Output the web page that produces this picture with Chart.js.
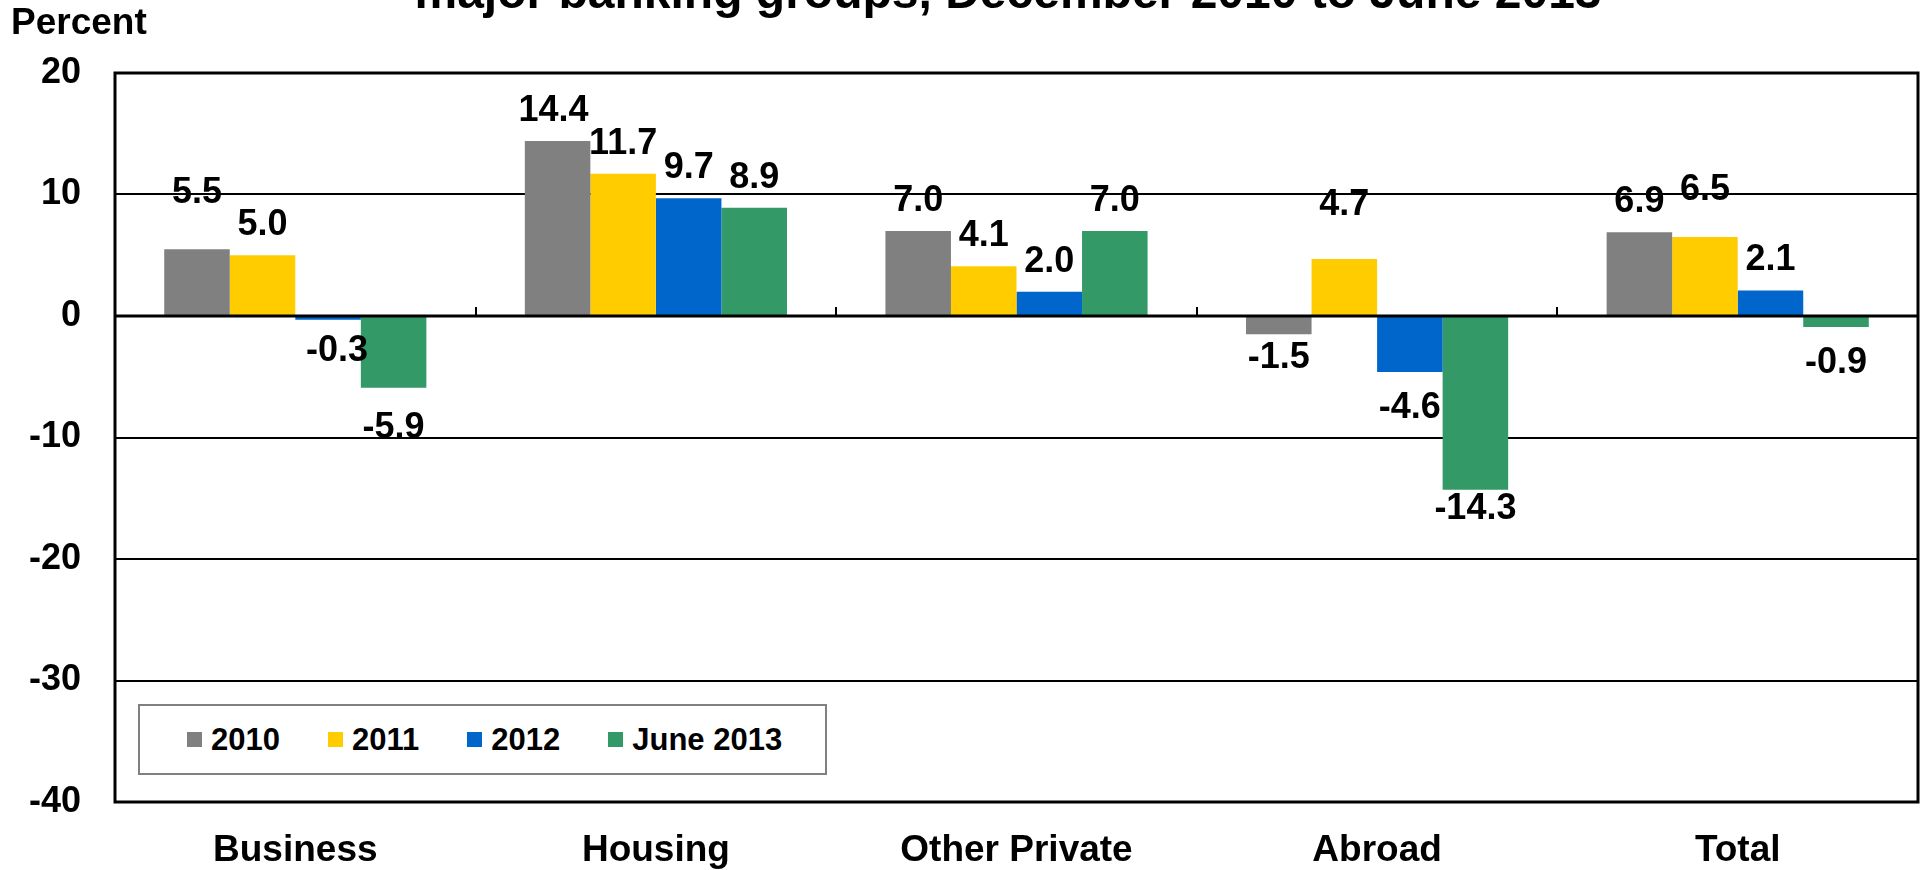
<!DOCTYPE html>
<html>
<head>
<meta charset="utf-8">
<title>Major banking groups, December 2010 to June 2013</title>
<script src="https://cdn.jsdelivr.net/npm/chart.js@4.4.1/dist/chart.umd.min.js"></script>
<style>
  html, body { margin: 0; padding: 0; background: #fff; overflow: hidden; }
  #wrap { position: relative; width: 1921px; height: 870px; }
  #legend {
    position: absolute; left: 138px; top: 704px; width: 689px; height: 71px;
    box-sizing: border-box; border: 2px solid #808080; background: #fff;
    display: flex; align-items: center; padding-left: 47px; white-space: nowrap;
    font: bold 31px "Liberation Sans", Arial, sans-serif; color: #000;
  }
  #legend .item { display: flex; align-items: center; margin-right: 48px; }
  #legend .swatch { width: 15px; height: 15px; margin-right: 9px; flex: none; }
</style>
</head>
<body>
<div id="wrap">
  <canvas id="lendingChart"></canvas>
  <div id="legend"></div>
</div>
<script>
// ===== Lending growth by sector, major banking groups =====

const categories = ['Business', 'Housing', 'Other Private', 'Abroad', 'Total'];
const seriesNames = ['2010', '2011', '2012', 'June 2013'];
const values2010 = [5.5, 14.4, 7.0, -1.5, 6.9];
const values2011 = [5.0, 11.7, 4.1, 4.7, 6.5];
const values2012 = [-0.3, 9.7, 2.0, -4.6, 2.1];
const valuesJune2013 = [-5.9, 8.9, 7.0, -14.3, -0.9];
const yTicks = [20, 10, 0, -10, -20, -30, -40];

const titleText = 'major banking groups, December 2010 to June 2013';
const yUnit = 'Percent';

// Colours as in the original
const seriesColors = ['#808080', '#FFCC00', '#0066CC', '#339966'];
const FONT = '"Liberation Sans", Arial, sans-serif';

// hand placed labels in the original (dataset index, point index) -> [dx, dy] px
const labelNudge = {
  '0:0': [0, -26],
  '2:0': [9, -5],
  '3:0': [0, 4],
  '0:1': [-4, 0],
  '0:3': [0, -12],
  '1:3': [0, -24],
  '3:3': [0, -17],
  '1:4': [0, -17]
};

const allValues = [values2010, values2011, values2012, valuesJune2013];

// Frame, zero line, title, unit and value labels
const decorPlugin = {
  id: 'decor',
  afterDatasetsDraw(chart) {
    const { ctx, chartArea: a, scales } = chart;
    const zeroY = scales.y.getPixelForValue(0);
    const catW = (a.right - a.left) / categories.length;

    ctx.save();
    ctx.strokeStyle = '#000';

    // zero line with small ticks at category boundaries
    ctx.lineWidth = 3;
    ctx.beginPath();
    ctx.moveTo(a.left, zeroY);
    ctx.lineTo(a.right, zeroY);
    ctx.stroke();
    ctx.lineWidth = 2;
    for (let i = 1; i < categories.length; i++) {
      const x = Math.round(a.left + i * catW);
      ctx.beginPath();
      ctx.moveTo(x, zeroY);
      ctx.lineTo(x, zeroY - 9);
      ctx.stroke();
    }

    // plot frame
    ctx.lineWidth = 3;
    ctx.strokeRect(a.left, a.top, a.right - a.left, a.bottom - a.top);

    // value labels
    ctx.fillStyle = '#000';
    ctx.font = 'bold 36px ' + FONT;
    ctx.textAlign = 'center';
    ctx.textBaseline = 'alphabetic';
    chart.data.datasets.forEach((ds, di) => {
      const meta = chart.getDatasetMeta(di);
      meta.data.forEach((bar, i) => {
        const v = ds.data[i];
        const nudge = labelNudge[di + ':' + i] || [0, 0];
        const y = v >= 0 ? bar.y - 20 : bar.y + 46;
        ctx.fillText(v.toFixed(1), bar.x + nudge[0], y + nudge[1]);
      });
    });

    // unit label and clipped title
    ctx.textAlign = 'left';
    ctx.font = 'bold 37px ' + FONT;
    ctx.fillText(yUnit, 11, 34);
    ctx.font = 'bold 48px ' + FONT;
    ctx.textAlign = 'center';
    ctx.fillText(titleText, 1008, 8);
    ctx.restore();
  }
};

const canvas = document.getElementById('lendingChart');
const ctx = canvas.getContext('2d');

const chart = new Chart(ctx, {
  type: 'bar',
  data: {
    labels: categories,
    datasets: seriesNames.map((name, k) => ({
      label: name,
      data: allValues[k],
      backgroundColor: seriesColors[k],
      borderWidth: 0,
      categoryPercentage: 0.727,
      barPercentage: 1.0
    }))
  },
  options: {
    responsive: true,
    maintainAspectRatio: false,
    animation: false,
    layout: {
      padding: { top: 73, right: 3, left: 0, bottom: 0 }
    },
    plugins: {
      legend: { display: false },
      title: { display: false },
      tooltip: { enabled: false }
    },
    scales: {
      x: {
        grid: { display: false },
        border: { display: false },
        ticks: {
          color: '#000',
          padding: 19,
          font: { family: FONT, size: 37, weight: 'bold' }
        },
        afterFit(scale) { scale.height = 68; }
      },
      y: {
        min: -40,
        max: 20,
        afterBuildTicks(scale) {
          scale.ticks = yTicks.map(v => ({ value: v }));
        },
        grid: {
          color: '#000',
          lineWidth: 2,
          drawTicks: false
        },
        border: { display: false },
        ticks: {
          color: '#000',
          padding: 34,
          font: { family: FONT, size: 36, weight: 'bold' }
        },
        afterFit(scale) { scale.width = 115; }
      }
    }
  },
  plugins: [decorPlugin]
});

// HTML legend inside the plot, built from the datasets
const legendEl = document.getElementById('legend');
chart.data.datasets.forEach(ds => {
  const item = document.createElement('div');
  item.className = 'item';
  const sw = document.createElement('span');
  sw.className = 'swatch';
  sw.style.background = ds.backgroundColor;
  const txt = document.createElement('span');
  txt.textContent = ds.label;
  item.appendChild(sw);
  item.appendChild(txt);
  legendEl.appendChild(item);
});
</script>
</body>
</html>
